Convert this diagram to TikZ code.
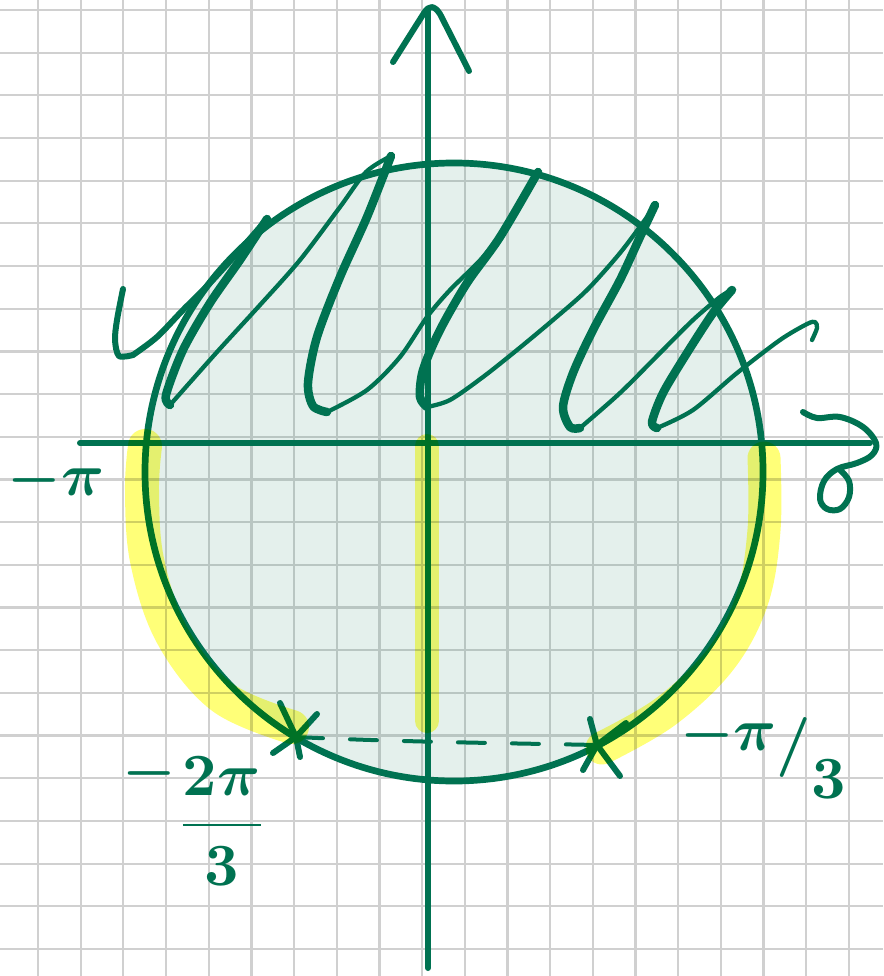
\documentclass[tikz,border=0pt]{standalone}
\definecolor{ink}{RGB}{0,114,81}
\definecolor{hl}{RGB}{255,255,120}
\definecolor{gridc}{RGB}{208,208,208}
\begin{document}
\begin{tikzpicture}[x=1pt,y=-1pt,
  gridline/.style={draw=gridc, line width=2.2},
  inkline/.style={draw=ink, line cap=round, line join=round},
  axisline/.style={inkline, line width=6},
  thickstroke/.style={inkline, line width=8.5},
  midstroke/.style={inkline, line width=6},
  thinstroke/.style={inkline, line width=4.3},
  hlstroke/.style={draw=hl, line cap=round, line join=round},
  lab/.style={text=ink, inner sep=0pt, outer sep=0pt, font=\boldmath}]
\useasboundingbox (0,0) rectangle (883,976);
\fill[white] (0,0) rectangle (883,976);
% grid
\foreach \i in {0,...,20} {\draw[gridline] ({38+42.68*\i},0) -- ({38+42.68*\i},976);}
\foreach \j in {0,...,22} {\draw[gridline] (0,{10+42.68*\j}) -- (883,{10+42.68*\j});}
% circle
\coordinate (O) at (454,472);
\draw[draw=ink, line width=6.7, fill=ink, fill opacity=0.105] (O) circle[radius=309];
% axes
\coordinate (xs) at (80,443);
\coordinate (xe) at (870,443);
\coordinate (ys) at (428,968);
\coordinate (ye) at (428,10);
\draw[axisline] (xs) -- (xe);
\draw[axisline] (ys) -- (ye);
\draw[axisline] (393,62) -- (424,13) .. controls (429,5) and (434,5) .. (440,14) -- (469,71);
% curl at the end of the horizontal axis
\draw[axisline] plot[smooth, tension=0.6] coordinates {(803,412) (817,418) (840,417) (863,427) (876,443) (872,455) (857,463) (837,469) (824,481) (820,499) (827,509) (840,509) (849,497) (849,481) (840,470)};
% scribble
\draw[midstroke] plot[smooth, tension=0.5] coordinates {(123,289) (117,320) (115,340) (119,356) (133,355)};
\draw[midstroke] plot[smooth, tension=0.5] coordinates {(133,355) (157,337) (183,310) (210,283) (240,250) (267,219)};
\draw[thickstroke] plot[smooth, tension=0.5] coordinates {(267,219) (240,260) (210,303) (183,350) (166,395) (170,405)};
\draw[thinstroke] plot[smooth, tension=0.5] coordinates {(170,405) (217,352) (260,305) (300,260) (340,207) (366,172) (391,156)};
\draw[thickstroke] plot[smooth, tension=0.5] coordinates {(391,156) (367,217) (340,277) (317,337) (308,383) (313,406) (327,412)};
\draw[thinstroke] plot[smooth, tension=0.5] coordinates {(327,412) (367,390) (400,357) (427,317) (450,290) (483,257) (515,215) (538,172)};
\draw[thickstroke] plot[smooth, tension=0.5] coordinates {(538,172) (500,237) (467,283) (440,330) (423,370) (420,397) (427,407)};
\draw[thinstroke] plot[smooth, tension=0.5] coordinates {(427,407) (450,400) (483,377) (517,350) (553,320) (587,290) (620,253) (647,217) (655,205)};
\draw[thickstroke] plot[smooth, tension=0.5] coordinates {(655,205) (640,237) (620,280) (593,330) (573,373) (563,407) (570,427) (580,428)};
\draw[thinstroke] plot[smooth, tension=0.5] coordinates {(580,428) (620,393) (660,353) (693,320) (720,297) (732,290)};
\draw[thickstroke] plot[smooth, tension=0.5] coordinates {(732,290) (713,313) (687,353) (663,393) (652,422) (657,428)};
\draw[thinstroke] plot[smooth, tension=0.5] coordinates {(657,428) (693,410) (737,373) (780,340) (807,324) (815,322) (817,328) (812,340)};
% marked points and dashed chord
\coordinate (P1) at (296,737);
\coordinate (P2) at (597,745);
\draw[inkline, line width=4, dash pattern=on 27pt off 27pt] (P1) .. controls (400,742) and (500,743) .. (P2);
\draw[inkline, line width=6] (280,703) -- (P1) -- (300,757);
\draw[inkline, line width=6] (273,753) -- (P1) -- (317,714);
\draw[inkline, line width=6] (590,719) -- (P2) -- (620,776);
\draw[inkline, line width=6] (583,770) -- (P2) -- (626,723);
% highlighter strokes
\begin{scope}[blend mode=multiply]
\draw[hlstroke, line width=34] plot[smooth, tension=0.6] coordinates {(145,446) (142,490) (147,560) (172,635) (222,697) (292,727)};
\draw[hlstroke, line width=33] plot[smooth, tension=0.6] coordinates {(764,458) (764,530) (752,600) (720,660) (665,712) (602,748)};
\draw[hlstroke, line width=24] (427,446) -- (427,721);
\end{scope}
% labels
\node[lab, scale=6] (lpi) at (56,480) {$-\pi$};
\node[lab, scale=6] (l2pi) at (195,818) {$\raisebox{0.85em}{$-$}{\displaystyle\frac{2\pi}{3}}$};
\node[lab, scale=6, anchor=base west] (lpi3) at (680,750) {$-\pi\lower0.2em\hbox{$/$}\lower0.8em\hbox{$3$}$};
\end{tikzpicture}
\end{document}
